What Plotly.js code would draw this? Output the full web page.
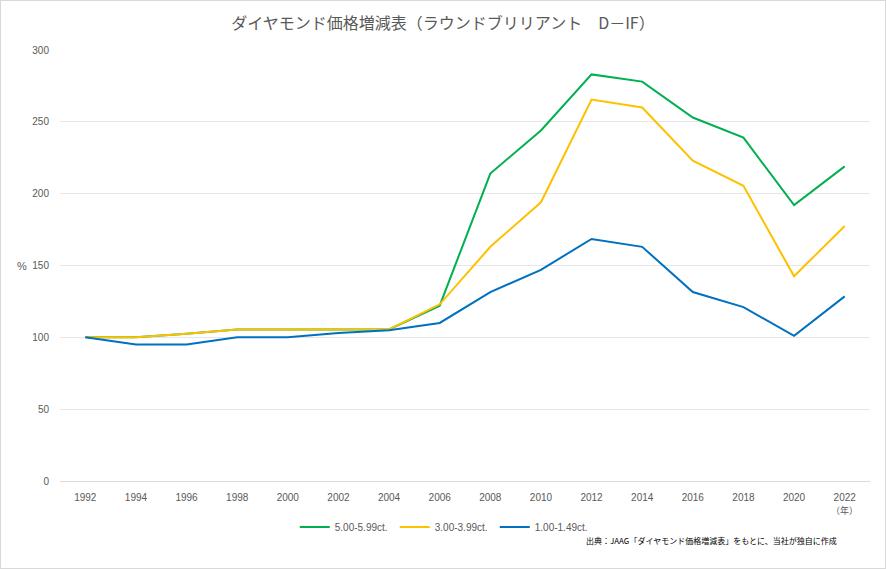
<!DOCTYPE html>
<html>
<head>
<meta charset="utf-8">
<script src="https://cdn.plot.ly/plotly-3.0.1.min.js"></script>
<style>
  html, body { margin: 0; padding: 0; background: #fff; }
  #wrap { position: relative; width: 886px; height: 569px; }
  #chart { width: 886px; height: 569px; }
  #frame { position: absolute; left: 0; top: 0; width: 886px; height: 569px; box-sizing: border-box; border: 1px solid #d9d9d9; pointer-events: none; }
</style>
</head>
<body>
<div id="wrap"><div id="chart"></div><div id="frame"></div></div>
<script>
const years = ['1992','1994','1996','1998','2000','2002','2004','2006','2008','2010','2012','2014','2016','2018','2020','2022'];
const seriesNames = ['5.00-5.99ct.', '3.00-3.99ct.', '1.00-1.49ct.'];
const ct5 = [100, 100, 102.5, 105.5, 105.5, 105.5, 105.5, 122, 214, 244, 283, 278, 253, 239, 192, 219];
const ct3 = [100, 100, 102.5, 105.5, 105.5, 105.5, 105.5, 123, 163, 194, 265.5, 260, 223, 205.5, 142.5, 177.5];
const ct1 = [100, 95, 95, 100, 100, 103, 105, 110, 131.5, 147, 168.5, 163, 131.5, 121, 101, 128.5];
const colors = ['#00B050', '#FFC000', '#0070C0'];
const yTicks = [0, 50, 100, 150, 200, 250, 300];

const idx = years.map((_, i) => i);
const data = [ct5, ct3, ct1].map((vals, k) => ({
  x: idx, y: vals, type: 'scatter', mode: 'lines', name: seriesNames[k],
  line: { color: colors[k], width: 2 }, hoverinfo: 'x+y'
}));

const layout = {
  width: 886, height: 569,
  margin: { l: 60, r: 16, t: 50, b: 88 },
  paper_bgcolor: '#ffffff', plot_bgcolor: '#ffffff',
  font: { family: '"Noto Sans CJK JP", "Liberation Sans", sans-serif', color: '#595959', size: 10 },
  title: {
    text: 'ダイヤモンド価格増減表（ラウンドブリリアント　D－IF）',
    font: { family: '"Noto Sans CJK JP", sans-serif', size: 16, color: '#595959' },
    x: 0.5, xanchor: 'center', y: 0.958, yanchor: 'middle'
  },
  xaxis: {
    range: [-0.5, 15.5], tickmode: 'array', tickvals: idx, ticktext: years,
    showgrid: false, zeroline: false, showline: true, linecolor: '#d9d9d9', linewidth: 1,
    ticks: '', ticklabelstandoff: 7,
    tickfont: { size: 10, color: '#595959', family: '"Liberation Sans", sans-serif' }
  },
  yaxis: {
    range: [0, 300], tickmode: 'array', tickvals: yTicks, ticktext: yTicks.map(String),
    showgrid: true, gridcolor: '#e6e6e6', gridwidth: 1, zeroline: false, showline: false,
    ticks: '', ticklen: 0, ticklabelstandoff: 10,
    tickfont: { size: 10, color: '#595959', family: '"Liberation Sans", sans-serif' }
  },
  showlegend: true,
  legend: {
    orientation: 'h', x: 0.475, xanchor: 'center', y: -0.107, yanchor: 'middle',
    font: { size: 10, color: '#595959', family: '"Liberation Sans", sans-serif' },
    entrywidth: 55, entrywidthmode: 'pixels', tracegroupgap: 0
  },
  annotations: [
    { text: '%', xref: 'paper', yref: 'y', x: 0, y: 150, xanchor: 'center', xshift: -38, showarrow: false,
      font: { size: 11, color: '#595959', family: '"Liberation Sans", sans-serif' } },
    { text: '（年）', xref: 'x', yref: 'paper', x: 15, y: 0, yanchor: 'middle', yshift: -29, showarrow: false,
      font: { size: 9, color: '#595959', family: '"Noto Sans CJK JP", sans-serif' } },
    { text: '出典：JAAG「ダイヤモンド価格増減表」をもとに、当社が独自に作成', xref: 'paper', yref: 'paper',
      x: 0.962, xanchor: 'right', y: 0, yanchor: 'middle', yshift: -59, showarrow: false,
      font: { size: 8, color: '#000000', family: '"Noto Sans CJK JP", sans-serif' } }
  ]
};

Plotly.newPlot('chart', data, layout, { displayModeBar: false, staticPlot: true });
</script>
</body>
</html>
